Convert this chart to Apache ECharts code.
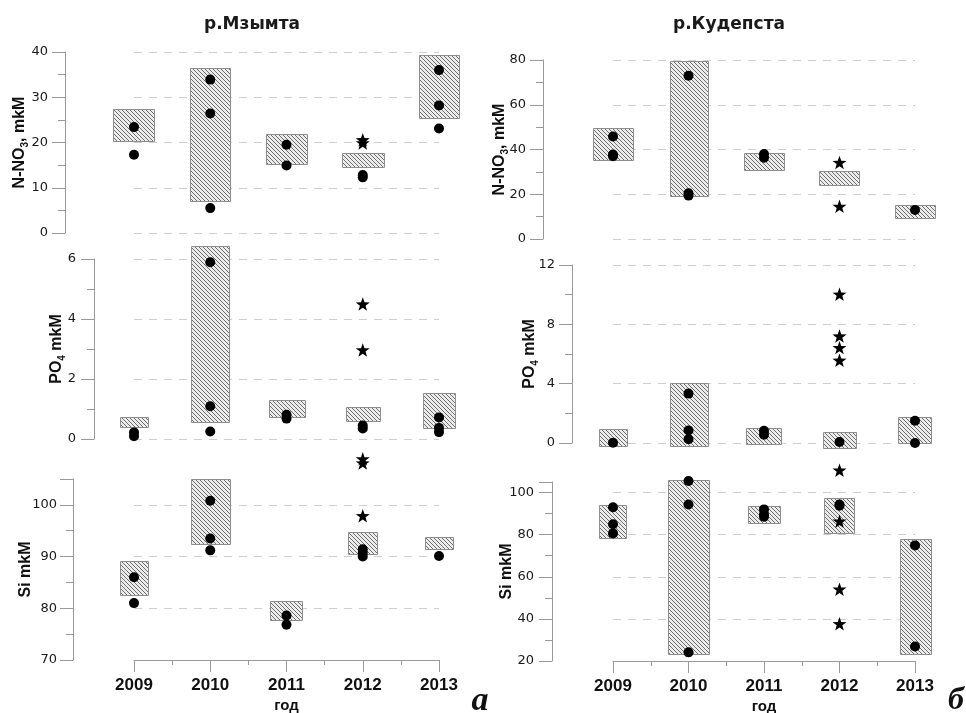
<!DOCTYPE html>
<html><head><meta charset="utf-8">
<script src="https://cdn.jsdelivr.net/npm/echarts@6/dist/echarts.min.js"></script>
<style>html,body{margin:0;padding:0;background:#fff}#c{width:966px;height:713px}</style>
</head><body><div id="c"></div>
<script>
// ---------------- DATA ----------------
const years = [2009, 2010, 2011, 2012, 2013];
const yearLabels = ['2009', '2010', '2011', '2012', '2013'];
const riverTitles = ['р.Мзымта', 'р.Кудепста'];
const panelLetters = ['а', 'б'];

// р.Мзымта — N-NO3
const mzNO3Low  = [20.2, 6.9, 15.2, 14.5, 25.5];
const mzNO3High = [27.3, 36.4, 21.8, 17.6, 39.4];
const mzNO3Dots = [[23.4, 17.3], [33.9, 26.4, 5.5], [19.5, 14.9], [12.8, 12.3], [36.0, 28.2, 23.1]];
const mzNO3Stars = [[], [], [], [20.6, 19.9], []];
// р.Мзымта — PO4
const mzPO4Low  = [0.40, 0.59, 0.73, 0.63, 0.37];
const mzPO4High = [0.74, 6.44, 1.30, 1.08, 1.52];
const mzPO4Dots = [[0.22, 0.09], [5.89, 1.09, 0.25], [0.81, 0.68], [0.45, 0.35], [0.72, 0.37, 0.23]];
const mzPO4Stars = [[], [], [], [4.5, 2.97], []];
// р.Мзымта — Si
const mzSiLow  = [82.6, 92.4, 77.8, 90.6, 91.4];
const mzSiHigh = [89.1, 105.0, 81.4, 94.8, 93.8];
const mzSiDots = [[86.0, 81.0], [100.8, 93.5, 91.2], [78.6, 76.8], [91.4, 90.7, 90.0], [90.1]];
const mzSiStars = [[], [], [], [108.9, 108.1, 97.9], []];

// р.Кудепста — N-NO3
const kdNO3Low  = [35.2, 19.1, 30.7, 24.0, 9.3];
const kdNO3High = [49.7, 79.5, 38.5, 30.3, 15.2];
const kdNO3Dots = [[45.8, 37.8, 37.0], [73.0, 20.4, 19.4], [38.0, 36.3], [], [13.0]];
const kdNO3Stars = [[], [], [], [34.2, 14.6], []];
// р.Кудепста — PO4
const kdPO4Low  = [-0.20, -0.20, -0.09, -0.38, 0.0];
const kdPO4High = [0.92, 4.02, 0.99, 0.72, 1.73];
const kdPO4Dots = [[0.02], [3.33, 0.85, 0.25], [0.83, 0.56], [0.07], [1.50, 0.0]];
const kdPO4Stars = [[], [], [], [10.03, 7.21, 6.43, 5.58], []];
// р.Кудепста — Si
const kdSiLow  = [78.7, 23.0, 85.2, 80.7, 23.4];
const kdSiHigh = [94.3, 105.8, 93.5, 97.2, 77.8];
const kdSiDots = [[93.0, 84.9, 80.6], [105.5, 94.3, 24.1], [92.0, 89.6, 88.5], [94.3, 93.7], [74.9, 26.9]];
const kdSiStars = [[], [], [], [110.6, 86.4, 54.1, 37.7], []];

// ---------------- LAYOUT / STYLE ----------------
// box widths in year units (style only)
const boxW = {
  mzNO3: [0.54, 0.53, 0.54, 0.55, 0.53],
  mzPO4: [0.37, 0.50, 0.47, 0.45, 0.42],
  mzSi:  [0.37, 0.51, 0.42, 0.38, 0.37],
  kdNO3: [0.53, 0.50, 0.53, 0.53, 0.53],
  kdPO4: [0.37, 0.50, 0.47, 0.44, 0.44],
  kdSi:  [0.36, 0.54, 0.42, 0.40, 0.41]
};

const panels = [
  {key:'mzNO3', low:mzNO3Low, high:mzNO3High, dots:mzNO3Dots, stars:mzNO3Stars,
   grid:{left:134, right:527, top:52, height:181}, y:{min:0, max:40, interval:10, offset:69, nameGap:35, margin:17},
   name:'N-NO{s|3}, mkM', bottom:false},
  {key:'mzPO4', low:mzPO4Low, high:mzPO4High, dots:mzPO4Dots, stars:mzPO4Stars,
   grid:{left:134, right:527, top:259, height:180}, y:{min:0, max:6, interval:2, offset:40, nameGap:27, margin:18},
   name:'PO{s|4} mkM', bottom:false},
  {key:'mzSi', low:mzSiLow, high:mzSiHigh, dots:mzSiDots, stars:mzSiStars,
   grid:{left:134, right:527, top:479, height:181}, y:{min:70, max:105, interval:10, offset:61, nameGap:37, margin:16},
   name:'Si mkM', bottom:true},
  {key:'kdNO3', low:kdNO3Low, high:kdNO3High, dots:kdNO3Dots, stars:kdNO3Stars,
   grid:{left:613, right:51, top:60, height:179}, y:{min:0, max:80, interval:20, offset:70, nameGap:33, margin:17},
   name:'N-NO{s|3}, mkM', bottom:false},
  {key:'kdPO4', low:kdPO4Low, high:kdPO4High, dots:kdPO4Dots, stars:kdPO4Stars,
   grid:{left:613, right:51, top:265, height:178}, y:{min:0, max:12, interval:4, offset:41, nameGap:32, margin:17},
   name:'PO{s|4} mkM', bottom:false},
  {key:'kdSi', low:kdSiLow, high:kdSiHigh, dots:kdSiDots, stars:kdSiStars,
   grid:{left:613, right:51, top:482, height:179}, y:{min:20, max:105, interval:20, offset:61, nameGap:35, margin:18},
   name:'Si mkM', bottom:true}
];

// hatch pattern
function makeHatch() {
  const s = 4;
  const c = document.createElement('canvas');
  c.width = s; c.height = s;
  const g = c.getContext('2d');
  g.fillStyle = '#ebebeb';
  g.fillRect(0, 0, s, s);
  g.strokeStyle = '#707070';
  g.lineWidth = 1;
  g.beginPath();
  for (let k = -s; k <= s; k += s) { g.moveTo(k, 0); g.lineTo(k + s, s); }
  g.stroke();
  return c;
}
const hatch = {image: makeHatch(), repeat: 'repeat'};
const starPath = 'path://M12,0.5L14.9,8.9L23.7,9.1L16.7,14.5L19.2,23L12,18L4.8,23L7.3,14.5L0.3,9.1L9.1,8.9Z';

const AX = '#9a9a9a';
const grids = [], xAxes = [], yAxes = [], series = [];

panels.forEach((p, i) => {
  grids.push(Object.assign({containLabel:false, outerBoundsMode:'none'}, p.grid));
  xAxes.push({
    type:'value', gridIndex:i, min:2009, max:2013, interval:1,
    show:p.bottom,
    axisLine:{show:true, lineStyle:{color:AX, width:1}},
    axisTick:{show:true, length:12, lineStyle:{color:AX}},
    minorTick:{show:true, splitNumber:2, length:5, lineStyle:{color:AX}},
    splitLine:{show:false},
    axisLabel:{show:true, margin:17, fontFamily:'Liberation Sans, Arial, sans-serif', fontWeight:'bold', fontSize:17, color:'#111',
      formatter: v => { const idx = years.indexOf(v); return idx >= 0 ? yearLabels[idx] : ''; }},
    name: p.bottom ? 'год' : '', nameLocation:'middle', nameGap:38, nameMoveOverlap:false,
    nameTextStyle:{fontFamily:'Liberation Sans, Arial, sans-serif', fontWeight:'bold', fontSize:15, color:'#111'}
  });
  const y = p.y;
  yAxes.push({
    type:'value', gridIndex:i, min:y.min, max:y.max, interval:y.interval, offset:y.offset,
    axisLine:{show:true, lineStyle:{color:AX, width:1}},
    axisTick:{show:true, length:13, lineStyle:{color:AX}},
    minorTick:{show:true, splitNumber:2, length:7, lineStyle:{color:AX}},
    splitLine:{show:true, showMaxLine: !p.bottom, lineStyle:{color:'#cfcfcf', type:[8,7], width:1}},
    axisLabel:{margin:y.margin, fontFamily:'DejaVu Sans, sans-serif', fontSize:13, color:'#1a1a1a',
      formatter: v => ((v - y.min) % y.interval === 0 ? String(v) : '')},
    name:p.name, nameLocation:'middle', nameRotate:90, nameGap:y.nameGap, nameMoveOverlap:false,
    nameTextStyle:{fontFamily:'Liberation Sans, Arial, sans-serif', fontWeight:'bold', fontSize:16, color:'#111', lineHeight:20,
      rich:{s:{fontFamily:'Liberation Sans, Arial, sans-serif', fontWeight:'bold', fontSize:10, lineHeight:10, verticalAlign:'bottom', color:'#111'}}}
  });

  const widths = boxW[p.key];
  series.push({
    type:'custom', xAxisIndex:i, yAxisIndex:i, clip:false, z:2,
    encode:{x:0, y:[1, 2]},
    data: years.map((yr, k) => [yr, p.low[k], p.high[k]]),
    renderItem: (params, api) => {
      const x = api.value(0), lo = api.value(1), hi = api.value(2);
      const w = widths[params.dataIndex];
      const a = api.coord([x - w / 2, hi]);
      const b = api.coord([x + w / 2, lo]);
      return {type:'rect',
        shape:{x:Math.round(a[0]) + 0.5, y:Math.round(a[1]) + 0.5, width:Math.round(b[0] - a[0]), height:Math.round(b[1] - a[1])},
        style:{fill:hatch, stroke:'#8e8e8e', lineWidth:1}};
    }
  });
  const dotData = [];
  years.forEach((yr, k) => p.dots[k].forEach(v => dotData.push([yr, v])));
  series.push({type:'scatter', xAxisIndex:i, yAxisIndex:i, clip:false, z:3, symbol:'circle', symbolSize:10,
    itemStyle:{color:'#000000', opacity:1}, data:dotData});
  const starData = [];
  years.forEach((yr, k) => p.stars[k].forEach(v => starData.push([yr, v])));
  series.push({type:'scatter', xAxisIndex:i, yAxisIndex:i, clip:false, z:3, symbol:starPath, symbolSize:14,
    symbolKeepAspect:true, itemStyle:{color:'#000000', opacity:1}, data:starData});
});

const chart = echarts.init(document.getElementById('c'), null, {renderer:'canvas'});
chart.setOption({
  animation:false,
  backgroundColor:'#ffffff',
  grid:grids, xAxis:xAxes, yAxis:yAxes, series:series,
  graphic:[
    {type:'text', x:252, y:25, style:{text:riverTitles[0], font:'bold 17px "DejaVu Sans", sans-serif', fill:'#1a1a1a', textAlign:'center', textVerticalAlign:'middle'}},
    {type:'text', x:729, y:25, style:{text:riverTitles[1], font:'bold 17px "DejaVu Sans", sans-serif', fill:'#1a1a1a', textAlign:'center', textVerticalAlign:'middle'}},
    {type:'text', x:480, y:701, style:{text:panelLetters[0], font:'italic bold 34px "Liberation Serif", "DejaVu Serif", serif', fill:'#111', textAlign:'center', textVerticalAlign:'middle'}},
    {type:'text', x:956, y:701, style:{text:panelLetters[1], font:'italic bold 32px "Liberation Serif", "DejaVu Serif", serif', fill:'#111', textAlign:'center', textVerticalAlign:'middle'}}
  ]
});
</script></body></html>
